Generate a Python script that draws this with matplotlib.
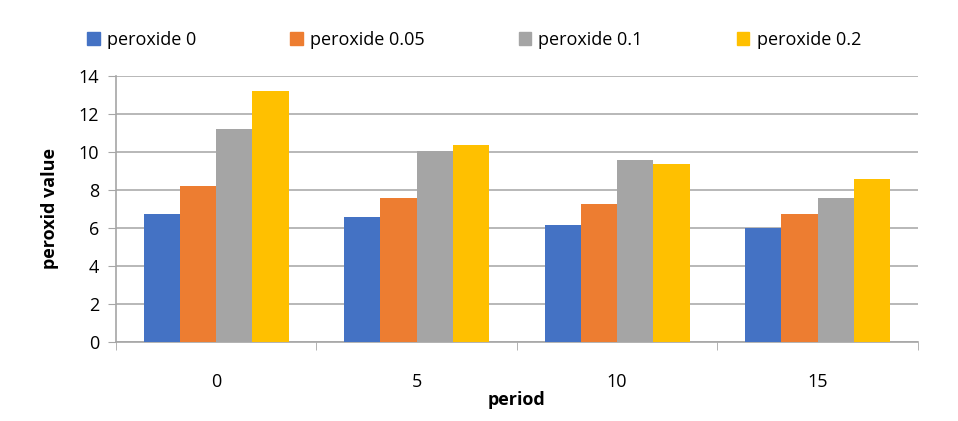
import numpy as np
import matplotlib.pyplot as plt
from matplotlib.patches import Patch

periods = ["0", "5", "10", "15"]
series_names = ["peroxide 0", "peroxide 0.05", "peroxide 0.1", "peroxide 0.2"]
p0 = [6.75, 6.6, 6.15, 6.0]
p005 = [8.2, 7.6, 7.25, 6.75]
p01 = [11.2, 10.05, 9.6, 7.6]
p02 = [13.2, 10.35, 9.35, 8.6]
colors = ["#4472C4", "#ED7D31", "#A5A5A5", "#FFC000"]

plt.rcParams['font.family'] = ['Open Sans', 'DejaVu Sans']

fig = plt.figure(figsize=(9.58, 4.21), dpi=100)
ax = fig.add_axes([0.121, 0.1876, 0.837, 0.632])

x = np.arange(len(periods))
w = 0.181
for i, vals in enumerate([p0, p005, p01, p02]):
	ax.bar(x + (i - 1.5) * w, vals, w, color=colors[i], zorder=3, label=series_names[i])

ax.set_xlim(-0.5, 3.5)
ax.set_ylim(0, 14)
ax.set_yticks(range(0, 15, 2))
ax.yaxis.grid(True, color="#ABABAB", linewidth=1.2, zorder=0)
ax.set_xticks(x)
ax.set_xticklabels(periods, fontsize=13)
ax.set_xticks(np.arange(-0.5, 4, 1), minor=True)
ax.tick_params(axis='x', which='major', length=0, pad=22)
ax.tick_params(axis='x', which='minor', length=6, color="#A6A6A6")
ax.tick_params(axis='y', length=6, color="#A6A6A6", labelsize=13, pad=6)
for s in ["top", "right"]:
	ax.spines[s].set_visible(False)
for s in ["left", "bottom"]:
	ax.spines[s].set_color("#A6A6A6")
	ax.spines[s].set_linewidth(1.2)

ax.set_xlabel("period", fontsize=13, fontweight="bold", labelpad=0)
ax.set_ylabel("peroxid value", fontsize=13, fontweight="bold", labelpad=14)

handles = [Patch(color=c) for c in colors]
fig.legend(handles, series_names, loc="center left", bbox_to_anchor=(0.074, 0.905), ncol=4,
	frameon=False, fontsize=13, handlelength=0.7, handleheight=0.7, handletextpad=0.4,
	columnspacing=5.2)

fig.savefig("out.png", dpi=100)
